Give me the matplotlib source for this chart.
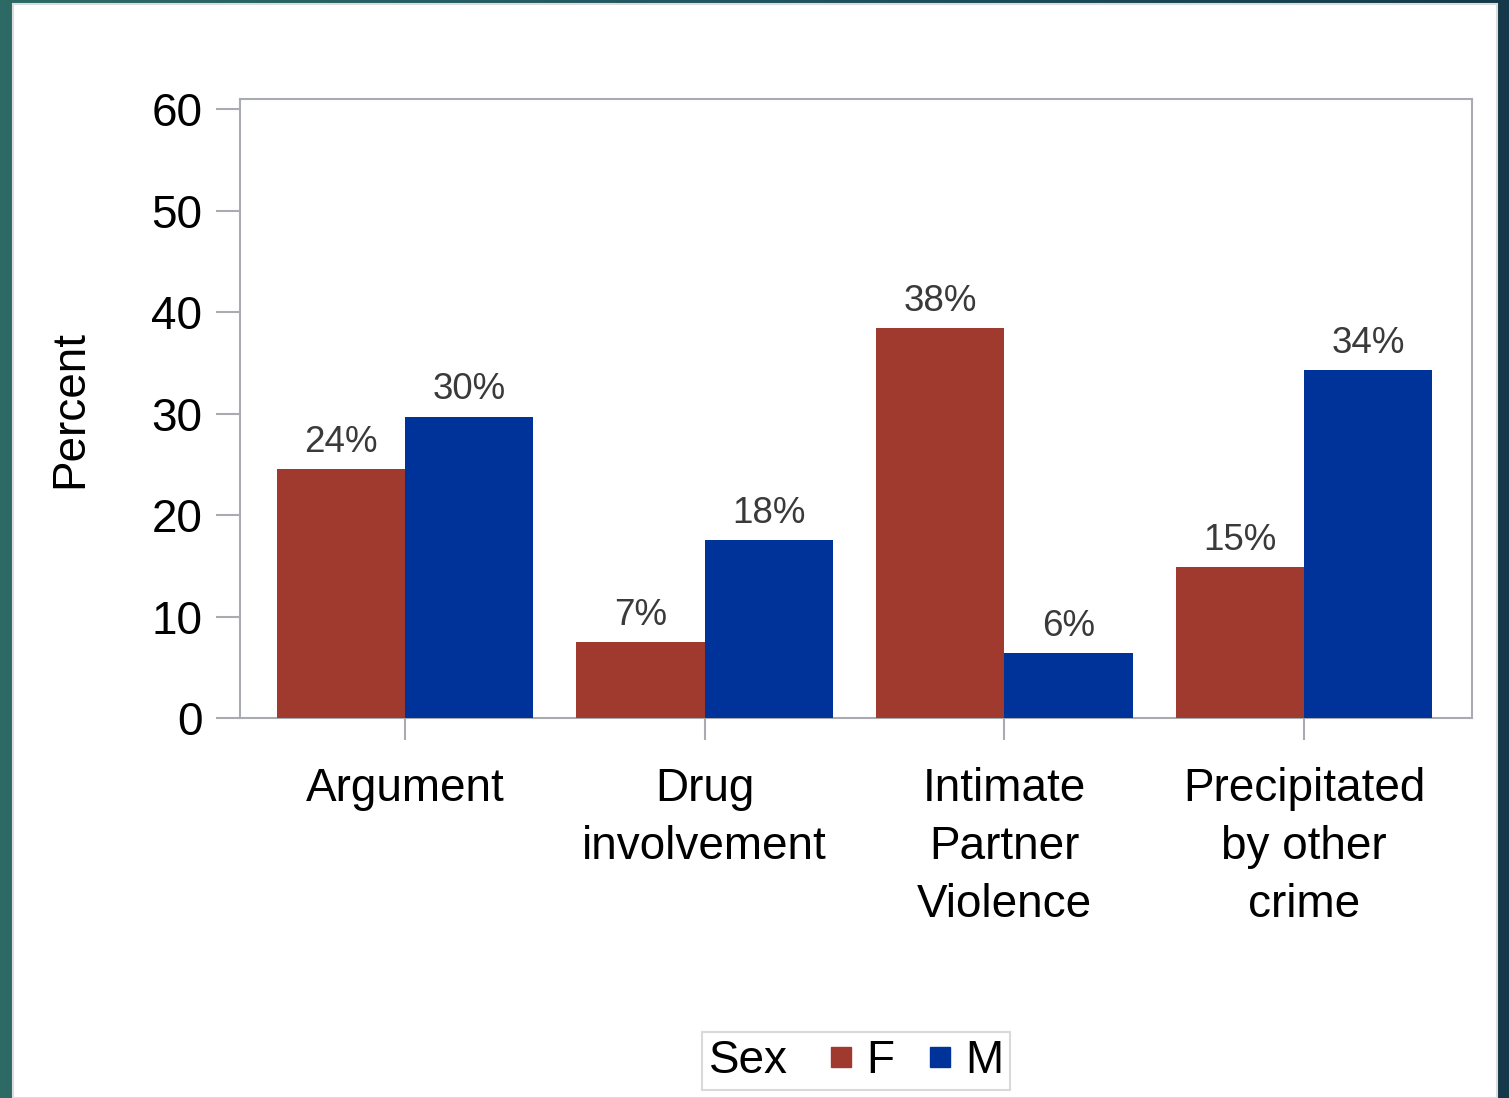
import numpy as np
import matplotlib
matplotlib.use("Agg")
from matplotlib import pyplot as plt
from matplotlib.patches import Rectangle
from matplotlib.lines import Line2D
from matplotlib.colors import LinearSegmentedColormap
from matplotlib.offsetbox import HPacker

plt.rcParams['font.family'] = ['Liberation Sans', 'DejaVu Sans']

categories = ["Argument", "Drug\ninvolvement", "Intimate\nPartner\nViolence", "Precipitated\nby other\ncrime"]
female = [24.5, 7.5, 38.4, 14.9]
male = [29.7, 17.5, 6.4, 34.3]
female_labels = ["24%", "7%", "38%", "15%"]
male_labels = ["30%", "18%", "6%", "34%"]

W, H = 1509, 1098
fig = plt.figure(figsize=(W / 100, H / 100), dpi=100)

# slide background: teal to dark navy, white panel on top
bg = fig.add_axes([0, 0, 1, 1], zorder=-10)
grad = np.linspace(0, 1, 256)[None, :]
cmap = LinearSegmentedColormap.from_list("slide", ["#2d6a65", "#1f5560", "#13394a"])
bg.imshow(grad, cmap=cmap, aspect="auto", extent=[0, 1, 0, 1])
bg.add_patch(Rectangle((13 / W, 0), (1497 - 13) / W, (H - 4) / H,
                       facecolor="white", edgecolor="#dcdcdc", lw=1.5))
bg.set_xlim(0, 1)
bg.set_ylim(0, 1)
bg.axis("off")

ax = fig.add_axes([240 / W, 1 - 718 / H, (1472 - 240) / W, (718 - 99) / H])
x = np.arange(len(categories))
w = 0.428
ax.bar(x - w / 2, female, w, color="#a03a2e", label="F", zorder=3)
ax.bar(x + w / 2, male, w, color="#003399", label="M", zorder=3)

for i in range(len(categories)):
    ax.text(x[i] - w / 2, female[i] + 0.9, female_labels[i], ha="center", va="bottom",
            fontsize=26.5, color="#3a3a3a")
    ax.text(x[i] + w / 2, male[i] + 0.9, male_labels[i], ha="center", va="bottom",
            fontsize=26.5, color="#3a3a3a")

ax.set_xlim(-0.55, 3.56)
ax.set_ylim(0, 61)
ax.set_yticks([0, 10, 20, 30, 40, 50, 60])
ax.set_xticks(x)
ax.set_xticklabels(categories, fontsize=33, linespacing=1.42)
ax.tick_params(axis="y", labelsize=33, length=17, width=1.5, color="#a8acb0", pad=10)
ax.tick_params(axis="x", length=16, width=1.5, color="#a8acb0", pad=19)
for s in ax.spines.values():
    s.set_color("#a8acb0")
    s.set_linewidth(1.5)
ax.set_ylabel("Percent", fontsize=33, labelpad=43)

handles = [Line2D([], [], marker="s", ls="", color="#a03a2e", markersize=14),
           Line2D([], [], marker="s", ls="", color="#003399", markersize=14)]
leg = fig.legend(handles, ["F", "M"], title="Sex", loc="center",
                 bbox_to_anchor=(856 / W, 1 - 1061 / H), ncol=2, fontsize=33,
                 title_fontsize=33, frameon=True, fancybox=False, handletextpad=0.15,
                 columnspacing=0.6, handlelength=0.8, borderpad=0.15, borderaxespad=0)
leg.get_frame().set_edgecolor("#d0d0d0")
leg.get_frame().set_linewidth(1.5)
# title on the same row as the entries
leg._legend_box._children = [HPacker(pad=0, sep=25, align="center",
                                     children=[leg._legend_title_box, leg._legend_handle_box])]

fig.savefig("out.png", dpi=100)
